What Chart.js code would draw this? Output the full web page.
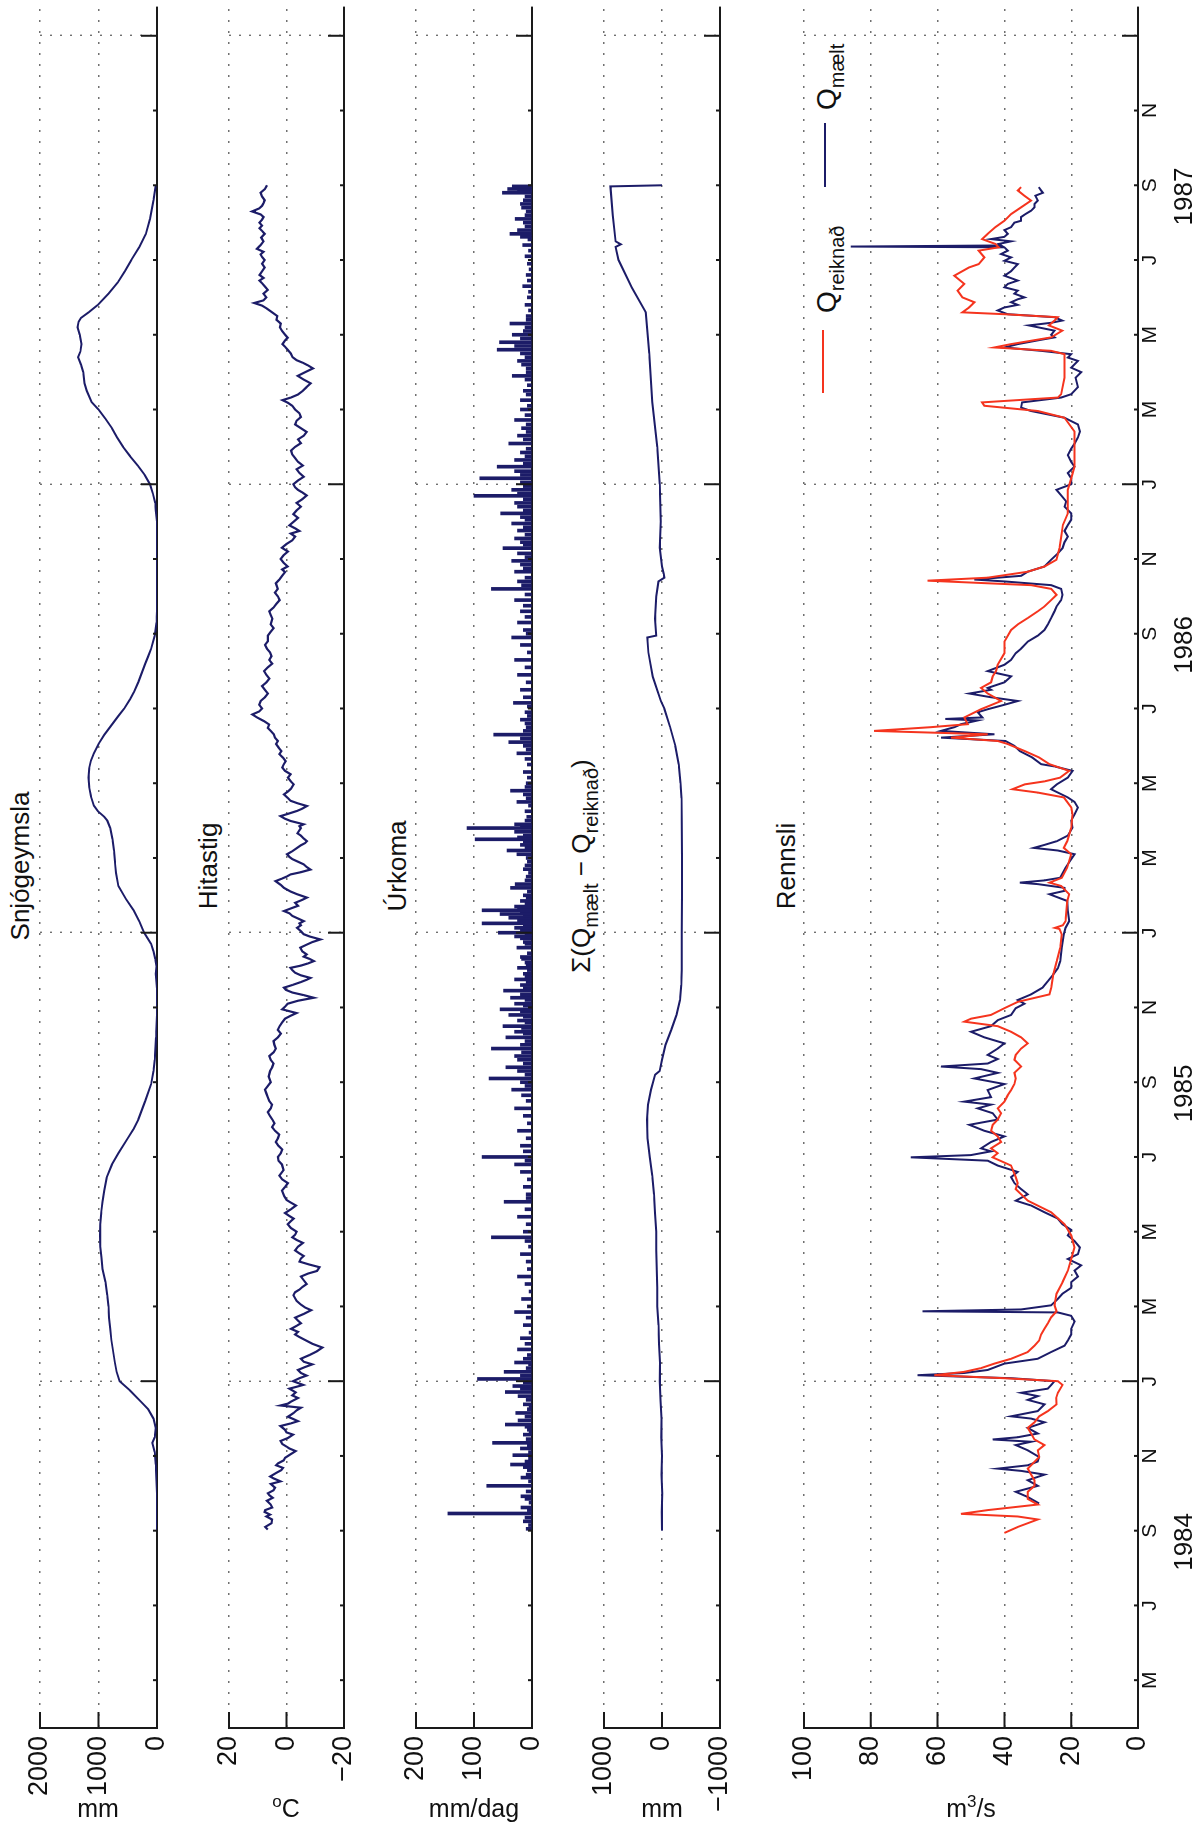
<!DOCTYPE html>
<html>
<head>
<meta charset="utf-8">
<script src="https://cdn.jsdelivr.net/npm/chart.js@4.4.1/dist/chart.umd.min.js"></script>
<style>
  body { margin: 0; width: 1204px; height: 1825px; overflow: hidden; background: #fff; position: relative;
         font-family: "Liberation Sans", Arial, sans-serif; color: #111; }
  #fig { position: absolute; left: 0; top: 0; width: 1825px; height: 1204px;
         transform-origin: 0 0; transform: translateY(1825px) rotate(-90deg); }
  #fig canvas { position: absolute; left: 0; }
  .ttl { position: absolute; font-size: 26px; line-height: 26px; white-space: nowrap; transform: translateX(-50%); }
  .ttl sub, .leg sub { font-size: 20px; line-height: 0; vertical-align: -8px; }
  .leg { position: absolute; font-size: 28px; line-height: 28px; white-space: nowrap; }
  .swatch { position: absolute; height: 2px; }
  .unit { position: absolute; top: 1796px; font-size: 25px; line-height: 25px; white-space: nowrap; transform: translateX(-50%); }
  .unit sup { font-size: 17px; line-height: 0; vertical-align: 10px; }
</style>
</head>
<body>
<div id="fig">
  <div class="ttl" style="left:959px;top:7px">Snjógeymsla</div>
  <div class="ttl" style="left:959px;top:195px">Hitastig</div>
  <div class="ttl" style="left:959px;top:384px">Úrkoma</div>
  <div class="ttl" style="left:959px;top:568px">Σ(Q<sub>mælt</sub> − Q<sub>reiknað</sub>)</div>
  <div class="ttl" style="left:959px;top:773px">Rennsli</div>
  <div class="swatch" style="left:1432px;top:822px;width:63px;background:#f5341e"></div>
  <div class="leg" style="left:1512px;top:813px">Q<sub>reiknað</sub></div>
  <div class="swatch" style="left:1638px;top:824px;width:64px;background:#1c1c68"></div>
  <div class="leg" style="left:1715px;top:813px">Q<sub>mælt</sub></div>
</div>
<div class="unit" style="left:98px">mm</div>
<div class="unit" style="left:286px"><sup>o</sup>C</div>
<div class="unit" style="left:474px">mm/dag</div>
<div class="unit" style="left:662px">mm</div>
<div class="unit" style="left:971px">m<sup>3</sup>/s</div>

<script>
// time in months from 1 Jan 1984
const monthLetters = ['J','F','M','A','M','J','J','A','S','O','N','D'];
const tickMonths = [4,6,8,10,12,14,16,18,20,22,24,26,28,30,32,34,36,38,40,42,44,46,48];
const yearLabels = ['1984','1985','1986','1987'];
const yearCenters = [7.7, 19.7, 31.7, 43.7];

// snow storage, mm
const snow = [
  [8.0,0],[9.0,0],[9.77,20],[10.1,40],[10.35,80],[10.5,40],[10.75,20],[11.0,60],[11.25,150],[11.46,280],[11.75,460],
  [12.0,640],[12.25,690],[12.5,720],[12.8,750],[13.1,780],[13.4,800],[13.7,820],[14.0,830],[14.3,850],[14.65,880],
  [15.0,930],[15.3,950],[15.6,970],[15.9,975],[16.2,970],[16.5,955],[16.8,930],[17.1,900],[17.45,860],[17.8,770],
  [18.1,660],[18.5,500],[18.75,400],[19.0,320],[19.5,200],[19.95,100],[20.3,60],[20.6,40],[21.2,15],[21.8,0],
  [22.5,0],[22.9,20],[23.1,10],[23.3,30],[23.5,60],[23.7,100],[23.85,160],[24.0,220],[24.3,300],[24.6,400],
  [24.9,530],[25.25,660],[25.6,700],[25.9,720],[26.2,735],[26.5,760],[26.8,800],[27.0,850],[27.1,900],[27.25,1010],
  [27.4,1080],[27.65,1130],[27.9,1160],[28.15,1170],[28.4,1160],[28.6,1130],[28.8,1080],[29.05,1000],[29.3,900],
  [29.55,780],[29.8,660],[30.0,560],[30.25,460],[30.45,390],[30.7,320],[30.95,260],[31.2,200],[31.4,150],[31.6,100],
  [31.95,40],[32.3,10],[32.6,0],[35.0,0],[35.3,20],[35.5,30],[35.75,70],[36.0,120],[36.25,210],[36.5,330],[36.75,460],
  [37.0,580],[37.25,680],[37.5,770],[37.75,880],[38.0,1000],[38.2,1120],[38.5,1200],[38.7,1240],[39.0,1260],
  [39.2,1300],[39.4,1350],[39.55,1310],[39.75,1290],[40.0,1320],[40.2,1360],[40.35,1340],[40.45,1300],[40.6,1170],
  [40.8,1010],[41.1,830],[41.4,670],[41.7,550],[42.0,440],[42.35,300],[42.7,190],[43.1,120],[43.6,60],[44.0,20]
];

// air temperature, deg C
const temp = [
  [8.03,6.5],[8.1,7.4],[8.2,5.2],[8.3,5.0],[8.38,7.0],[8.43,5.7],[8.5,7.6],[8.55,7.4],[8.62,5.0],[8.7,5.5],[8.8,6.8],
  [8.88,4.8],[8.95,6.0],[9.0,6.5],[9.08,4.5],[9.15,4.0],[9.25,5.5],[9.32,2.1],[9.4,4.5],[9.45,5.7],[9.55,3.5],
  [9.62,1.8],[9.68,1.2],[9.75,3.6],[9.8,3.0],[9.88,1.0],[9.95,0.5],[10.05,-1.5],[10.13,-3.2],[10.2,-1.0],[10.25,0.0],
  [10.32,1.5],[10.4,2.1],[10.48,-0.5],[10.57,-2.3],[10.63,0.0],[10.7,0.5],[10.8,2.1],[10.87,-1.5],[10.93,-4.0],
  [11.0,-2.0],[11.05,-0.5],[11.1,-1.5],[11.15,-2.5],[11.22,-3.5],[11.29,-5.0],[11.35,2.1],[11.4,-0.5],[11.45,-1.5],
  [11.55,-4.0],[11.62,-2.0],[11.7,-3.2],[11.8,-1.0],[11.85,-3.5],[11.9,-5.8],[12.0,-2.3],
  [12.08,-4.5],[12.15,-7],[12.22,-5],[12.3,-4],[12.38,-6.5],[12.45,-9],[12.52,-6],[12.6,-5],[12.7,-8],[12.8,-10.6],
  [12.9,-12.5],[13.0,-9],[13.1,-6.5],[13.18,-4.5],[13.25,-3],[13.32,-4],[13.4,-1.6],[13.48,-3.5],[13.55,-5],
  [13.62,-4],[13.7,-3],[13.8,-6],[13.9,-8.6],[13.97,-6.5],[14.05,-5],[14.15,-3.5],[14.3,-2.4],[14.38,-3],[14.45,-4.5],
  [14.52,-5.5],[14.6,-7],[14.7,-6],[14.8,-5],[14.88,-7.5],[14.95,-10.6],[15.05,-11.5],[15.12,-8],[15.2,-4.5],
  [15.28,-5],[15.35,-6],[15.42,-4.5],[15.5,-3],[15.6,-4],[15.7,-5.7],[15.78,-3.5],[15.85,-2],[15.92,-3],[16.0,-3.5],
  [16.1,-1.5],[16.2,-0.4],[16.28,-1.5],[16.35,-2.5],[16.42,-1],[16.5,0.5],[16.6,-1.5],[16.7,-3.3],[16.78,-1.5],
  [16.85,0],[16.95,0.8],[17.1,1.6],[17.2,0.5],[17.3,-0.5],[17.4,1.5],[17.5,2.5],[17.65,1.0],[17.8,1.6],[17.9,2.8],
  [18.0,3.0],[18.1,2.0],[18.2,1.5],[18.3,2.8],[18.4,3.7],[18.5,3.0],[18.6,2.5],[18.7,4.0],[18.8,5.0],[18.9,4.2],
  [19.0,4.9],[19.1,5.8],[19.2,6.5],[19.3,5.5],[19.4,5.0],[19.5,6.0],[19.6,6.5],[19.7,7.0],[19.8,7.5],[19.9,6.5],
  [20.0,5.5],[20.15,6.2],[20.3,5.7],[20.4,5.0],[20.5,4.5],[20.6,5.5],[20.7,6.0],[20.8,4.5],[20.9,3.7],[21.0,4.2],
  [21.1,4.5],[21.2,3.0],[21.3,2.0],[21.4,3.0],[21.5,2.4],[21.6,1.5],[21.7,0.5],[21.78,-1.5],[21.85,-3.5],[21.95,1.5],
  [22.02,0.5],[22.1,-0.4],[22.18,-4],[22.26,-9.5],[22.33,-6],[22.4,-2],[22.47,0.2],[22.53,0.9],[22.6,-2],[22.68,-5],
  [22.74,-7],[22.79,-8.3],[22.86,-5],[22.93,-3],[23.0,-2],[23.06,-1.4],[23.12,-5],[23.18,-7.5],[23.24,-9.5],[23.3,-8],
  [23.36,-6],[23.42,-7],[23.5,-5.5],[23.6,-4.8],[23.68,-7],[23.75,-9],[23.82,-11.8],[23.9,-8],[23.96,-6],[24.04,-5],
  [24.13,-3.7],[24.2,-5],[24.25,-4.5],[24.31,-6],[24.38,-4],[24.45,-2],[24.52,-1],[24.58,0.9],[24.65,-1.5],[24.72,-4],
  [24.8,-3],[24.88,-5.5],[24.94,-7.1],[25.03,-3.7],[25.1,-1.5],[25.2,0.9],[25.28,2],[25.38,3.8],[25.45,1.5],[25.5,0],
  [25.56,-1.4],[25.62,-5],[25.69,-8.3],[25.76,-7],[25.83,-6],[25.9,-4],[25.97,-2],[26.03,-1],[26.1,-0.2],[26.18,-2],
  [26.27,-3.7],[26.34,-5],[26.4,-6.5],[26.45,-7.1],[26.52,-6],[26.6,-5],[26.66,-3.8],[26.72,-4.3],[26.8,-5],
  [26.85,-4.5],[26.9,-6],[26.95,-3.5],[26.99,-1.4],[27.05,0.5],[27.12,2.1],[27.18,-0.5],[27.26,-3.7],[27.32,-5.5],
  [27.39,-7.1],[27.46,-4],[27.53,-1.4],[27.6,-0.5],[27.7,0.9],[27.78,-0.5],[27.85,-1.5],[27.97,-2.5],[28.05,-1.5],
  [28.15,-0.5],[28.24,-1.4],[28.33,0.5],[28.42,1.5],[28.5,1.0],[28.59,0.3],[28.68,1.2],[28.78,2.5],[28.86,1.8],
  [28.95,2.7],[29.05,3.6],[29.13,3.0],[29.22,4.0],[29.31,4.4],[29.4,5.5],[29.48,6.5],[29.57,6.0],[29.66,7.8],
  [29.75,10],[29.84,11.9],[29.92,9.5],[30.0,8.5],[30.1,9.5],[30.2,9.0],
  [30.3,7.5],[30.4,6.5],[30.5,7.5],[30.6,8.5],[30.7,7.0],[30.8,6.0],[30.9,7.0],[31.0,7.8],[31.1,6.5],[31.2,5.0],
  [31.3,6.0],[31.4,5.2],[31.5,5.7],[31.6,6.8],[31.7,7.5],[31.8,6.5],[31.95,6.5],[32.05,5.5],[32.15,4.5],[32.25,5.5],
  [32.4,4.9],[32.5,5.5],[32.6,6.0],[32.7,4.5],[32.8,3.5],[32.9,2.4],[33.0,3.0],[33.1,4.0],[33.2,3.0],[33.35,3.7],
  [33.45,2.5],[33.55,1.5],[33.65,0.5],[33.72,1.5],[33.8,-0.4],[33.9,1.0],[34.0,2.0],[34.1,1.0],[34.2,-0.5],[34.3,1.6],
  [34.4,0.0],[34.5,-2.0],[34.6,-3.0],[34.68,-1.5],[34.75,-4.5],[34.82,-3.0],[34.9,-1.0],[35.0,-2.5],[35.1,-4.0],
  [35.2,-2.4],[35.3,-3.5],[35.4,-5.0],[35.5,-3.5],[35.6,-5.5],[35.7,-7.0],[35.78,-5.5],[35.85,-4.0],[35.92,-3.0],
  [36.0,-2.4],[36.1,-4.0],[36.2,-6.0],[36.3,-4.5],[36.4,-3.5],[36.5,-5.7],[36.6,-4.0],[36.7,-3.0],[36.8,-2.0],
  [36.9,-1.6],[37.0,-3.0],[37.1,-5.0],[37.2,-4.0],[37.3,-6.0],[37.4,-7.0],[37.5,-5.0],[37.6,-3.0],[37.7,-3.5],
  [37.8,-5.0],[37.9,-4.5],[38.0,-3.0],[38.1,-2.0],[38.18,-0.5],[38.25,1.4],[38.32,-1.5],[38.4,-4.0],[38.5,-5.7],
  [38.6,-7.0],[38.7,-8.4],[38.8,-6.0],[38.9,-3.9],[39.0,-6.5],[39.1,-9.2],[39.18,-7.5],[39.25,-5.7],[39.32,-3.5],
  [39.4,-2.1],[39.5,-1.5],[39.6,-0.4],[39.68,0.5],[39.75,1.4],[39.85,0.5],[39.92,-0.4],[40.0,0.5],[40.1,1.5],
  [40.2,2.3],[40.3,2.0],[40.4,3.5],[40.5,3.2],[40.6,5.0],[40.7,6.8],[40.78,8.5],[40.85,11.2],[40.92,8.0],[41.0,7.0],
  [41.1,8.0],[41.2,6.5],[41.3,7.6],[41.38,8.5],[41.45,9.4],[41.52,8.0],[41.6,9.4],[41.7,8.5],[41.8,7.6],[41.9,8.5],
  [42.0,7.6],[42.08,8.5],[42.15,9.0],[42.22,8.0],[42.3,10.3],[42.4,9.0],[42.5,8.0],[42.6,8.8],[42.7,7.6],[42.78,8.5],
  [42.85,9.4],[42.92,8.5],[43.0,9.4],[43.08,8.5],[43.15,8.0],[43.22,9.0],[43.3,12.0],[43.38,9.5],[43.45,8.5],
  [43.52,8.0],[43.6,7.6],[43.7,8.5],[43.8,9.0],[43.9,7.5],[44.0,6.8]
];

// daily precipitation, mm/dag
const precip = [
  [8.05,10],[8.15,6],[8.25,15],[8.35,12],[8.46,145],[8.55,8],[8.62,19],[8.75,5],[8.85,12],[8.92,19],[9.05,10],
  [9.2,78],[9.32,6],[9.42,19],[9.5,10],[9.62,8],[9.7,15],[9.77,37],[9.85,12],[9.93,6],[10.02,33],[10.1,6],[10.2,20],
  [10.28,8],[10.35,68],[10.45,10],[10.57,15],[10.63,5],[10.7,8],[10.78,12],[10.84,46],[10.95,24],[11.05,12],
  [11.15,28],[11.25,8],[11.32,5],[11.38,15],[11.5,10],[11.6,24],[11.71,46],[11.8,20],[11.87,33],[11.96,15],
  [12.06,94],[12.15,20],[12.25,48],[12.35,10],[12.45,6],[12.5,30],[12.6,15],[12.7,8],[12.85,25],[13.0,12],
  [13.15,20],[13.3,5],[13.5,15],[13.7,10],[13.85,30],[14.0,8],[14.2,18],[14.4,5],[14.6,12],[14.8,25],[15.0,8],
  [15.2,10],[15.4,20],[15.6,6],[15.75,12],[15.85,70],[16.0,15],[16.2,10],[16.4,25],[16.6,12],[16.8,48],[16.9,10],
  [17.0,10],[17.2,15],[17.4,8],[17.6,20],[17.8,30],[17.9,12],[18.0,86],[18.15,15],[18.3,20],[18.5,10],[18.7,25],
  [18.9,8],[19.1,15],[19.3,30],[19.5,10],[19.65,18],[19.8,35],[19.9,12],[20.0,20],[20.1,74],[20.2,12],[20.3,25],
  [20.4,45],[20.5,15],[20.6,25],[20.7,30],[20.8,18],[20.9,70],[21.0,20],[21.1,12],[21.2,45],[21.3,15],[21.35,30],
  [21.45,18],[21.5,50],[21.6,12],[21.65,25],[21.75,15],[21.8,40],[21.9,20],[21.95,55],[22.05,15],[22.1,30],
  [22.2,12],[22.26,37],[22.35,20],[22.45,49],[22.52,15],[22.6,20],[22.68,10],[22.75,30],[22.82,12],[22.9,15],
  [23.0,8],[23.06,25],[23.15,10],[23.2,12],[23.3,18],[23.35,20],[23.45,8],[23.6,26],[23.7,12],[23.75,15],[23.85,20],
  [23.9,30],[23.96,12],
  [24.0,58],[24.07,20],[24.13,30],[24.2,15],[24.25,86],[24.33,25],[24.4,40],[24.45,15],[24.5,55],[24.55,20],
  [24.6,86],[24.65,25],[24.7,30],[24.78,12],[24.85,20],[24.93,10],[25.0,15],[25.1,8],[25.2,37],[25.3,29],[25.4,12],
  [25.5,10],[25.6,6],[25.7,15],[25.8,12],[25.9,8],[26.0,10],[26.1,26],[26.2,43],[26.28,12],[26.35,20],[26.43,15],
  [26.5,98],[26.55,25],[26.6,15],[26.7,30],[26.8,112],[26.85,20],[26.9,30],[27.0,12],[27.1,9],[27.25,12],[27.4,6],
  [27.5,26],[27.6,10],[27.7,15],[27.8,37],[27.9,12],[28.0,10],[28.15,8],[28.3,15],[28.5,8],[28.65,12],[28.8,26],
  [28.9,10],[29.0,15],[29.1,40],[29.2,20],[29.3,66],[29.4,15],[29.5,10],[29.6,12],[29.7,20],[29.8,8],[29.9,12],
  [30.05,8],[30.15,32],
  [30.3,15],[30.5,20],[30.7,10],[30.9,25],[31.1,12],[31.3,30],[31.5,8],[31.7,20],[31.9,35],[32.0,10],[32.1,15],
  [32.3,25],[32.45,12],[32.6,20],[32.75,15],[32.9,30],[33.05,12],[33.2,70],[33.3,18],[33.4,25],[33.5,12],[33.66,30],
  [33.75,15],[33.85,20],[33.95,35],[34.05,12],[34.15,25],[34.29,50],[34.38,15],[34.45,20],[34.55,30],[34.65,12],
  [34.76,25],[34.85,15],[34.95,35],[35.05,12],[35.12,20],[35.22,54],[35.3,15],[35.4,25],[35.5,30],[35.6,15],
  [35.69,100],[35.75,25],[35.85,35],[35.95,15],[36.05,20],[36.16,90],[36.25,20],[36.35,30],[36.47,60],[36.55,15],
  [36.65,30],[36.75,12],[36.85,20],[36.95,10],
  [37.09,40],[37.2,15],[37.3,25],[37.4,10],[37.5,18],[37.6,10],[37.72,30],[37.85,12],[38.0,20],[38.1,8],[38.25,20],
  [38.4,10],[38.5,15],[38.65,8],[38.8,12],[38.9,34],[39.0,10],[39.1,10],[39.2,18],[39.3,25],[39.4,12],[39.5,20],
  [39.6,60],[39.7,30],[39.8,56],[39.9,20],[40.0,34],[40.1,15],[40.2,12],[40.3,38],[40.4,10],[40.5,10],[40.65,6],
  [40.8,12],[41.0,8],[41.15,6],[41.3,16],[41.45,8],[41.6,10],[41.75,5],[41.9,8],[42.1,12],[42.25,6],[42.4,16],
  [42.55,7],[42.62,20],[42.7,38],[42.8,25],[42.9,12],[43.0,15],[43.1,29],[43.2,12],[43.3,10],[43.4,18],[43.5,20],
  [43.6,15],[43.7,12],[43.8,51],[43.86,25],[43.9,42],[43.97,34]
];

// cumulative difference measured - computed, mm
const cumDiff = [
  [8.0,0],[8.5,5],[9.0,-5],[9.5,10],[10.0,0],[10.5,15],[11.0,10],[11.5,25],[12.0,40],[12.5,35],[13.0,50],[13.5,60],
  [14.0,80],[14.5,80],[15.0,90],[15.5,100],[16.0,100],[16.5,120],[17.0,140],[17.5,170],[18.0,210],[18.5,250],
  [19.0,260],[19.4,240],[19.8,190],[20.2,120],[20.3,40],[20.6,0],[21.0,-60],[21.4,-160],[21.8,-250],[22.2,-310],
  [22.6,-330],[23.0,-340],[24.0,-340],[25.0,-345],[26.0,-345],[27.0,-340],[27.6,-335],[28.0,-320],[28.5,-290],
  [29.0,-230],[29.5,-140],[30.0,-40],[30.2,20],[30.85,160],[31.5,235],[31.9,255],[31.95,100],[32.4,120],[33.0,100],
  [33.4,60],[33.5,-40],[33.6,-30],[33.8,0],[34.3,40],[35.0,20],[36.0,40],[37.0,80],[38.2,170],[39.5,220],[40.6,280],
  [41.26,520],[42.0,750],[42.35,800],[42.42,710],[42.5,800],[43.2,850],[43.97,890],[44.0,0]
];

// runoff, m3/s
const qReiknad = [
  [7.94,40],[8.1,36],[8.3,30],[8.38,36],[8.45,53],[8.55,45],[8.7,30],[8.85,33],[9.04,33],[9.2,31],[9.35,31],[9.5,32],
  [9.66,33],[9.97,29.6],[10.15,30],[10.29,28],[10.44,31],[10.6,32],[10.75,33],[10.9,31],[11.06,29.6],[11.2,27],
  [11.38,24.4],[11.55,24.5],[11.69,24],[11.9,22.6],[12.0,24],[12.08,40],[12.16,61],[12.25,52],[12.35,47],[12.47,43],
  [12.6,38],[12.78,33],[12.95,31],[13.09,29.6],[13.25,29],[13.4,28],[13.55,27],[13.71,26],[13.87,24.4],[14.03,25],
  [14.34,24.4],[14.65,22.6],[14.96,21],[15.27,20],[15.58,19],[15.9,20],[16.2,22],[16.52,26],[16.83,33],[17.0,35],
  [17.14,36.6],[17.3,36],[17.46,36.6],[17.77,38],[17.99,43.5],[18.1,42],[18.23,44],[18.4,41],[18.55,42],[18.7,44],
  [18.86,43.5],[19.0,42],[19.17,41],[19.3,42],[19.48,40],[19.65,39],[19.79,38],[19.95,37],[20.1,36.6],[20.25,37],
  [20.42,35],[20.6,37],[20.73,36.6],[20.9,35],[21.04,33],[21.2,35],[21.35,38],[21.5,42],[21.62,52],[21.7,50],
  [21.8,44],[21.98,40],[22.15,36],[22.35,26.5],[22.53,26],[22.88,25.4],[23.24,24.3],[23.6,23.3],[23.95,22.8],
  [24.1,23.5],[24.13,24.9],[24.2,22.5],[24.31,21.7],[24.85,21.2],[25.03,20.6],[25.25,23],[25.34,26.5],[25.47,22.8],
  [25.74,21.2],[26.1,20],[26.27,22.2],[26.45,21.2],[26.81,20],[27.17,19.6],[27.35,20],[27.62,22.2],[27.75,30],
  [27.84,37.6],[27.97,33.9],[28.05,28],[28.15,23.3],[28.33,20.6],[28.51,26.5],[28.69,29.6],[28.86,33.9],[29.05,39],
  [29.13,42],[29.22,56],[29.31,45],[29.4,79],[29.5,62],[29.58,51],[29.76,52],[29.98,47],[30.2,41],[30.4,45],
  [30.55,47],[30.7,44],[30.86,43.5],[31.0,42.5],[31.17,42],[31.48,40],[31.79,40],[32.1,38],[32.25,36],[32.42,33],
  [32.6,30],[32.73,28],[32.9,26],[33.04,24.4],[33.2,26],[33.3,32],[33.42,63],[33.5,45],[33.66,33],[33.8,28],
  [33.98,24.4],[34.29,23.5],[34.6,23],[34.91,22.5],[35.22,21],[35.54,21],[35.85,21],[36.16,20],[36.47,19],
  [36.78,19],[37.09,19],[37.41,19],[37.78,22],[37.96,30],[38.1,46],[38.19,46.7],[38.32,24],[38.41,23],[38.85,22],
  [39.12,22],[39.3,22],[39.48,22],[39.57,26],[39.66,43],[39.75,38],[39.93,26],[40.11,22.7],[40.25,26.7],[40.38,25],
  [40.47,24],[40.55,40],[40.6,52.6],[40.73,50.6],[40.87,49],[41.0,52.6],[41.18,54],[41.36,52],[41.58,55],
  [41.8,50.6],[41.89,47.7],[42.07,46],[42.25,47.7],[42.34,41.7],[42.43,42.7],[42.56,46.7],[42.7,45],[42.88,42.7],
  [43.05,40],[43.23,38],[43.41,35],[43.59,32],[43.72,34],[43.86,36],[43.95,35]
];
const qMaelt = [
  [8.73,29.6],[8.9,33],[9.04,36.6],[9.2,30],[9.35,33],[9.5,28],[9.6,35],[9.66,42],[9.75,33],[9.85,30],[9.97,29.6],
  [10.15,33],[10.29,36.6],[10.38,32],[10.44,43.5],[10.5,36],[10.6,30],[10.75,33],[10.9,28],[11.0,32],[11.06,38],
  [11.2,30],[11.38,28],[11.5,33],[11.6,30],[11.69,35],[11.8,27],[11.9,26],[12.0,25],[12.08,38],[12.16,66],
  [12.22,52],[12.3,45],[12.47,40],[12.6,30],[12.78,26],[12.95,22],[13.09,21],[13.25,20],[13.4,20],[13.6,19],
  [13.75,20],[13.84,24],[13.87,64.5],[13.92,35],[14.03,26],[14.2,24],[14.34,22.6],[14.5,20],[14.65,20],[14.8,18],
  [14.96,19],[15.1,17],[15.27,21],[15.4,18],[15.58,17.4],[15.75,19],[15.9,21],[16.05,20],[16.2,22.6],[16.35,24],
  [16.52,28],[16.7,32],[16.83,36.6],[17.0,33],[17.14,35],[17.3,37],[17.46,38],[17.6,36],[17.77,42],[17.9,45],
  [17.99,68],[18.05,50],[18.15,44],[18.23,47],[18.4,44],[18.55,40],[18.7,46],[18.86,50.5],[19.0,42],[19.17,43.5],
  [19.3,48],[19.4,44],[19.48,52],[19.6,44],[19.79,45],[19.95,40],[20.1,49],[20.25,42],[20.35,47],[20.42,59],
  [20.5,45],[20.62,42],[20.73,45],[20.9,42],[21.04,40],[21.2,46],[21.35,50],[21.5,44],[21.66,42],[21.8,38],
  [21.98,36.6],[22.1,34],[22.2,36],[22.35,32],[22.53,28.6],[22.7,27],[22.88,25.4],[23.05,24],[23.24,23.3],
  [23.6,22.8],[23.95,22.2],[24.13,21.7],[24.31,20.6],[24.6,21],[24.85,21.2],[25.03,26.5],[25.12,22],[25.2,22],
  [25.3,30],[25.34,35.4],[25.4,28],[25.47,23.3],[25.74,21.7],[26.1,19],[26.2,24],[26.27,31.2],[26.35,28],
  [26.45,24.3],[26.6,21],[26.81,19.6],[27.0,20],[27.17,19],[27.35,18],[27.5,19],[27.62,21],[27.75,24],[27.84,26],
  [27.97,24.3],[28.15,21],[28.33,19.6],[28.45,25],[28.51,29],[28.69,31.7],[28.86,35.4],[29.0,37],[29.13,39.7],
  [29.22,59],[29.31,43],[29.4,59],[29.5,55],[29.58,53],[29.68,48],[29.72,57.7],[29.76,46.6],[29.9,48],[29.98,45],
  [30.1,40],[30.2,36],[30.3,44],[30.4,50.5],[30.5,44],[30.55,45],[30.7,40],[30.86,38],[31.0,45],[31.17,40],
  [31.3,38],[31.48,36.6],[31.6,35],[31.79,33],[31.95,30],[32.1,28],[32.25,27],[32.42,26],[32.6,25],[32.73,24.4],
  [32.9,23],[33.04,22.6],[33.2,23],[33.3,26],[33.4,40],[33.45,49],[33.55,35],[33.66,33],[33.8,28],[33.98,26],
  [34.15,24],[34.29,22.6],[34.45,22],[34.6,21],[34.75,22],[34.91,21],[35.05,20],[35.22,20],[35.4,22],[35.54,21.5],
  [35.7,23],[35.85,24.4],[36.0,20],[36.16,20],[36.3,21],[36.47,19],[36.6,20],[36.78,21],[36.95,20],[37.09,19],
  [37.25,18],[37.41,17.4],[37.6,18],[37.78,22],[37.96,32],[38.05,35],[38.19,34.7],[38.32,23],[38.41,20],[38.6,18],
  [38.85,18.7],[39.0,17],[39.12,20],[39.3,18],[39.39,21],[39.48,20],[39.57,29],[39.66,40],[39.75,36],[39.85,30],
  [39.93,25],[40.0,26],[40.11,25],[40.25,32.7],[40.32,26],[40.38,22.7],[40.47,25],[40.55,39],[40.65,42],[40.73,40],
  [40.8,36],[40.87,38],[40.95,36],[41.0,34],[41.1,37],[41.18,36],[41.27,40],[41.36,39],[41.45,36],[41.58,40],
  [41.7,38],[41.8,37],[41.89,36],[41.98,40],[42.07,38],[42.16,41],[42.25,39],[42.34,40],[42.36,86],[42.39,41],
  [42.43,41.7],[42.5,38],[42.56,44],[42.62,40],[42.7,39],[42.8,40],[42.88,38],[43.0,37],[43.05,35],[43.15,35],
  [43.23,33.7],[43.32,32],[43.41,31],[43.5,31],[43.59,30],[43.72,30.7],[43.8,28.5],[43.86,29],[43.95,29.7]
];

const X_MIN = 2.72, X_MAX = 48.77;
const NAVY = '#1c1c68', RED = '#f5341e', AXIS = '#1a1a1a', GRID = '#707070';
const FONT = "'Liberation Sans', Arial, sans-serif";
Chart.defaults.font.family = FONT;
Chart.defaults.color = '#111';

const pts = a => a.map(p => ({ x: p[0], y: p[1] }));
const minus = v => String(v).replace('-', '\u2212');

// ticks point into the plot, long ones at new year
const innerTicks = {
  id: 'innerTicks',
  afterDraw(chart) {
    const { ctx, chartArea: a, scales: { x, y } } = chart;
    ctx.save();
    ctx.strokeStyle = AXIS;
    ctx.lineWidth = 2;
    ctx.beginPath();
    y.ticks.forEach(t => {
      const py = y.getPixelForValue(t.value);
      ctx.moveTo(a.left, py); ctx.lineTo(a.left + 16, py);
    });
    x.ticks.forEach(t => {
      const px = x.getPixelForValue(t.value);
      ctx.moveTo(px, a.bottom); ctx.lineTo(px, a.bottom - (t.value % 12 === 0 ? 16 : 4));
    });
    ctx.stroke();
    ctx.restore();
  }
};

function panel(top, height, padTop, padBottom, yRange, datasets, labelled) {
  const cv = document.createElement('canvas');
  cv.width = 1825; cv.height = height;
  cv.style.top = top + 'px';
  document.getElementById('fig').appendChild(cv);

  const scales = {
    x: {
      type: 'linear', min: X_MIN, max: X_MAX, offset: false, weight: 0,
      afterBuildTicks: s => { s.ticks = tickMonths.map(v => ({ value: v })); },
      afterFit: s => { s.height = labelled ? 23 : 0; },
      grid: { offset: false, drawTicks: false, lineWidth: 1.4,
              color: c => (c.tick && c.tick.value % 12 === 0) ? GRID : 'rgba(0,0,0,0)' },
      border: { color: AXIS, width: 2, dash: [2, 8] },
      ticks: { display: labelled, autoSkip: false, maxRotation: 0, padding: 0,
               font: { size: 21 }, callback: v => v >= 48 ? '' : monthLetters[v % 12] }
    },
    y: {
      min: yRange[0], max: yRange[1],
      afterFit: s => { s.width = 97; },
      grid: { drawTicks: false, lineWidth: 1.4, color: GRID },
      border: { color: AXIS, width: 2, dash: [2, 9] },
      ticks: { stepSize: yRange[2], padding: 8, font: { size: 27 }, callback: minus }
    }
  };
  if (labelled) {
    scales.yr = {
      type: 'linear', position: 'bottom', min: X_MIN, max: X_MAX, weight: 1,
      afterBuildTicks: s => { s.ticks = yearCenters.map(v => ({ value: v })); },
      afterFit: s => { s.height = 43; },
      grid: { display: false }, border: { display: false },
      ticks: { autoSkip: false, maxRotation: 0, padding: 0, font: { size: 26 },
               callback: (v, i) => yearLabels[i] }
    };
  }

  new Chart(cv, {
    type: 'line',
    data: { datasets },
    options: {
      responsive: false, animation: false, events: [],
      layout: { padding: { left: 0, right: 7, top: padTop, bottom: padBottom } },
      plugins: { legend: { display: false }, tooltip: { enabled: false } },
      scales
    },
    plugins: [innerTicks]
  });
}

const line = (data, color, w) => ({
  type: 'line', data: pts(data), borderColor: color, borderWidth: w,
  pointRadius: 0, tension: 0, fill: false
});

panel(0, 190, 40, 33, [0, 2000, 1000], [line(snow, NAVY, 2)], false);
panel(190, 185, 39, 31, [-20, 20, 20], [line(temp, NAVY, 2.2)], false);
panel(375, 190, 41, 33, [0, 200, 100], [{
  type: 'bar', data: pts(precip), backgroundColor: NAVY, borderWidth: 0,
  barThickness: 3, grouped: false
}], false);
panel(565, 190, 39, 35, [-1000, 1000, 1000], [line(cumDiff, NAVY, 2)], false);
panel(755, 449, 49, 0, [0, 100, 20], [line(qReiknad, RED, 2), line(qMaelt, NAVY, 2)], true);
</script>
</body>
</html>
